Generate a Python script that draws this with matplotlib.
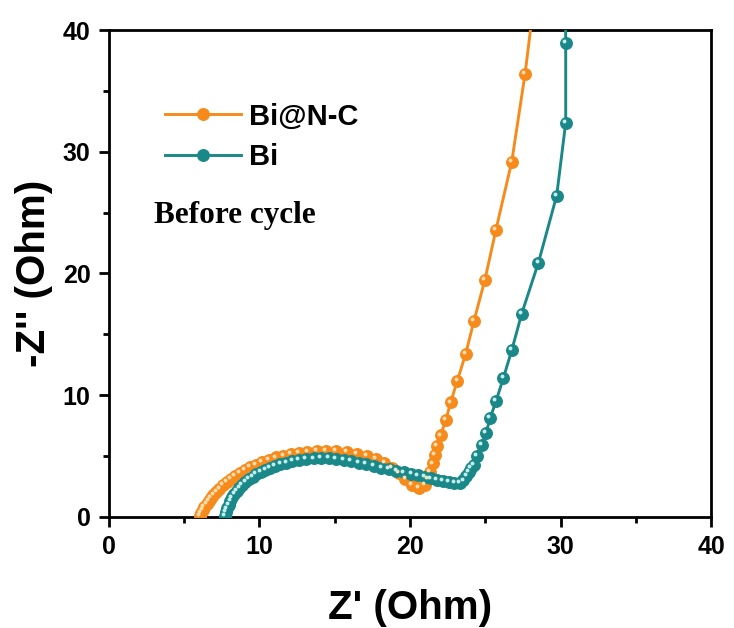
import matplotlib
matplotlib.use("Agg")
import matplotlib.pyplot as plt
import matplotlib.transforms as mtransforms
from matplotlib.ticker import MultipleLocator

plt.rcParams['font.family'] = ['Liberation Sans', 'DejaVu Sans']

bi_nc_x = [6.05, 6.15, 6.25, 6.35, 6.5, 6.65, 6.8, 6.95, 7.15, 7.35, 7.6, 7.85, 8.1, 8.4, 8.7,
           9.05, 9.4, 9.8, 10.2, 10.65, 11.1, 11.6, 12.1, 12.65, 13.2, 13.8, 14.4, 15.1, 15.8,
           16.5, 17.15, 17.75, 18.3, 18.8, 19.25, 19.7, 20.15, 20.6, 21.0, 21.2, 21.3, 21.5,
           21.66, 21.8, 22.04, 22.39, 22.7, 23.15, 23.7, 24.25, 24.98, 25.71, 26.76, 27.64, 28.3]
bi_nc_y = [0.05, 0.3, 0.55, 0.8, 1.05, 1.3, 1.55, 1.8, 2.05, 2.3, 2.6, 2.85, 3.1, 3.35, 3.6,
           3.85, 4.1, 4.3, 4.5, 4.7, 4.88, 5.03, 5.17, 5.28, 5.37, 5.43, 5.45, 5.42, 5.33,
           5.2, 5.0, 4.75, 4.45, 4.05, 3.6, 3.1, 2.65, 2.4, 2.6, 3.1, 3.7, 4.4,
           5.1, 5.8, 6.7, 8.0, 9.4, 11.2, 13.4, 16.1, 19.5, 23.6, 29.2, 36.4, 43.0]

bi_x = [7.7, 7.78, 7.87, 7.97, 8.08, 8.2, 8.35, 8.5, 8.68, 8.87, 9.08, 9.3, 9.55, 9.8, 10.1,
        10.4, 10.7, 11.05, 11.4, 11.8, 12.2, 12.65, 13.1, 13.6, 14.1, 14.6, 15.1, 15.6, 16.1,
        16.6, 17.1, 17.6, 18.1, 18.6, 19.1, 19.6, 20.1, 20.55, 21.0, 21.4, 21.8, 22.2, 22.6,
        22.95, 23.3, 23.55, 23.75, 23.9, 24.05, 24.25, 24.47, 24.76, 25.05, 25.32, 25.71, 26.2,
        26.76, 27.42, 28.53, 29.74, 30.34, 30.34, 30.3]
bi_y = [0.1, 0.4, 0.7, 1.0, 1.3, 1.6, 1.9, 2.15, 2.4, 2.65, 2.9, 3.1, 3.3, 3.5, 3.7,
        3.87, 4.03, 4.18, 4.32, 4.45, 4.57, 4.67, 4.75, 4.8, 4.83, 4.82, 4.77, 4.68, 4.57,
        4.45, 4.32, 4.18, 4.05, 3.92, 3.78, 3.65, 3.52, 3.4, 3.28, 3.16, 3.05, 2.95, 2.85,
        2.77, 2.8, 3.0, 3.35, 3.7, 4.0, 4.3, 5.0, 5.9, 6.9, 8.1, 9.5, 11.4,
        13.7, 16.7, 20.9, 26.4, 32.4, 38.96, 46.0]

series_names = ['Bi@N-C', 'Bi']
colors = ['#F68B1C', '#1A8888']
highlight = ['#FFDDB0', '#C4EEEC']
annotation = 'Before cycle'
x_ticks = [0, 10, 20, 30, 40]
y_ticks = [0, 10, 20, 30, 40]

fig = plt.figure(figsize=(7.34, 6.28), dpi=100)
ax = fig.add_axes([0.148, 0.177, 0.821, 0.775])

hl_offset = mtransforms.ScaledTranslation(-1.3 / 72, 1.3 / 72, fig.dpi_scale_trans)
for xs, ys, name, c, h in zip([bi_nc_x, bi_x], [bi_nc_y, bi_y], series_names, colors, highlight):
    ax.plot(xs, ys, '-o', color=c, lw=2.1, ms=8.3, mec=c, mfc=c, label=name, zorder=3)
    ax.plot(xs, ys, 'o', color=h, ms=2.8, mec='none', transform=ax.transData + hl_offset, zorder=4)

ax.set_xlim(0, 40)
ax.set_ylim(0, 40)
ax.set_xticks(x_ticks)
ax.set_yticks(y_ticks)
ax.xaxis.set_minor_locator(MultipleLocator(5))
ax.yaxis.set_minor_locator(MultipleLocator(5))
ax.tick_params(which='major', direction='out', length=7, width=2.0, labelsize=18, pad=6)
ax.tick_params(which='minor', direction='out', length=4, width=2.0)
ax.tick_params(top=False, right=False)
for lab in ax.get_xticklabels() + ax.get_yticklabels():
    lab.set_fontweight('bold')
for s in ax.spines.values():
    s.set_linewidth(2.0)

ax.set_xlabel("Z' (Ohm)", fontsize=29, fontweight='bold', labelpad=22)
ax.set_ylabel("-Z'' (Ohm)", fontsize=29, fontweight='bold', labelpad=7)

leg = ax.legend(loc='upper left', bbox_to_anchor=(0.093, 0.851), frameon=False,
                prop={'size': 21, 'weight': 'bold'}, handlelength=2.6,
                handletextpad=0.3, labelspacing=0.44, borderpad=0, borderaxespad=0)

ax.text(0.076, 0.62, annotation, transform=ax.transAxes, fontsize=22.5, fontweight='bold',
        family=['Liberation Serif', 'DejaVu Serif'], va='center', ha='left')

fig.savefig('out.png', dpi=100)
